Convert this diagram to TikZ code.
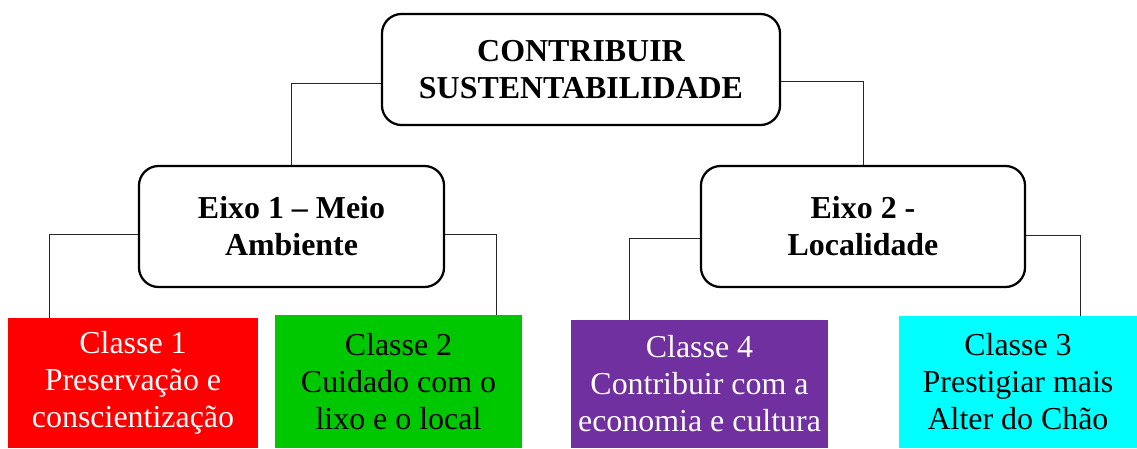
\documentclass[tikz,border=0pt]{standalone}
\usepackage{fontspec}
\setmainfont{Liberation Serif}
\usepackage{tikz}
\usetikzlibrary{positioning,calc}
\definecolor{ClassRed}{HTML}{FF0000}
\definecolor{ClassGreen}{HTML}{00C800}
\definecolor{ClassPurple}{HTML}{7030A0}
\definecolor{ClassCyan}{HTML}{00FFFF}

\begin{document}
\begin{tikzpicture}[
    x=0.025cm, y=-0.025cm,
    goal/.style={
      draw=black,
      line width=1.6pt,
      fill=white,
      rounded corners=14pt,
      align=center,
      font=\fontsize{22.7}{26.3}\selectfont\bfseries
    },
    classe/.style={
      draw=none,
      inner sep=0pt,
      align=center,
      font=\fontsize{22.7}{26.3}\selectfont
    },
    link/.style={
      line width=0.7pt,
      color=black!85
    }
  ]
  \useasboundingbox (0,0) rectangle (1137,448);

  % Goal
  \node[goal, minimum width=9.95cm, minimum height=2.775cm] (top) at (581,69.5)
    {CONTRIBUIR\\SUSTENTABILIDADE};

  % Axes
  \node[goal, minimum width=7.625cm, minimum height=3.025cm] (e1) at (291.5,226.5)
    {Eixo 1 -- Meio\\Ambiente};
  \node[goal, minimum width=8.1cm, minimum height=3.025cm] (e2) at (863,226.5)
    {Eixo 2 -\\Localidade};

  % Classes
  \node[classe, fill=ClassRed, text=white, minimum width=6.25cm, minimum height=3.25cm]
    (c1) at (133,383) {Classe 1\\Preservação e\\conscientização};
  \node[classe, fill=ClassGreen, text=black, minimum width=6.175cm, minimum height=3.325cm]
    (c2) at (398.5,381.5) {Classe 2\\Cuidado com o\\lixo e o local};
  \node[classe, fill=ClassPurple, text=white, minimum width=6.425cm, minimum height=3.2cm]
    (c4) at (699.5,384) {Classe 4\\Contribuir com a\\economia e cultura};
  \node[classe, fill=ClassCyan, text=black, minimum width=5.95cm, minimum height=3.3cm]
    (c3) at (1018,382) {Classe 3\\Prestigiar mais\\Alter do Chão};

  % Links
  \draw[link] ([yshift=-0.34cm]top.west) -| (e1.north);
  \draw[link] ([yshift=-0.31cm]top.east) -| (e2.north);
  \draw[link] ([yshift=-0.21cm]e1.west) -| ([xshift=-2.075cm]c1.north);
  \draw[link] ([yshift=-0.19cm]e1.east) -| ([xshift=2.44cm]c2.north);
  \draw[link] ([yshift=-0.31cm]e2.west) -| ([xshift=-1.74cm]c4.north);
  \draw[link] ([yshift=-0.22cm]e2.east) -| ([xshift=1.55cm]c3.north);

\end{tikzpicture}
\end{document}
